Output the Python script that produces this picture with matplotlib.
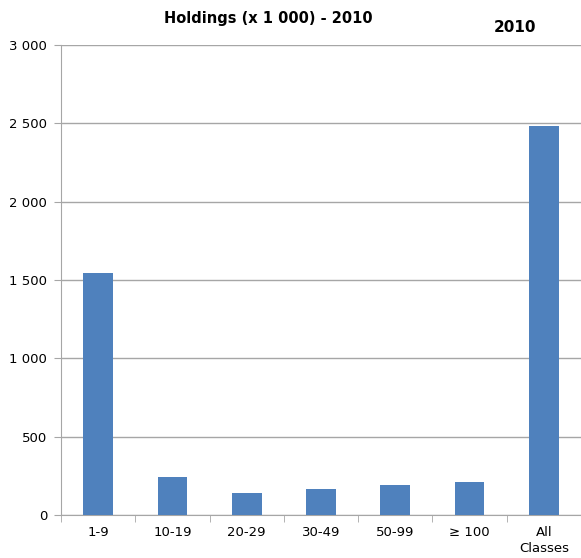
import matplotlib
matplotlib.use("Agg")
import matplotlib.pyplot as plt
import numpy as np

categories = ["1-9", "10-19", "20-29", "30-49", "50-99", "\u2265 100", "All\nClasses"]
values = [1545, 243, 140, 166, 191, 211, 2483]
yticks = [0, 500, 1000, 1500, 2000, 2500, 3000]
ytick_labels = ["0", "500", "1 000", "1 500", "2 000", "2 500", "3 000"]

plt.rcParams['font.family'] = ['DejaVu Sans']
fig = plt.figure(figsize=(5.81, 5.58), dpi=100)
ax = fig.add_axes([61/581, 1 - 515/558, 520/581, 470/558])

x = np.arange(len(categories))
ax.bar(x, values, width=0.4, color="#4F81BD", zorder=3)
ax.set_xlim(-0.5, len(categories) - 0.5)
ax.set_ylim(0, 3000)
ax.set_yticks(yticks)
ax.set_yticklabels(ytick_labels, fontsize=9.5)
ax.set_xticks(x)
ax.set_xticklabels(categories, fontsize=9.5, linespacing=1.25)
ax.tick_params(axis='x', length=0, pad=8)
ax.set_xticks(np.arange(-0.5, len(categories), 1), minor=True)
ax.tick_params(axis='x', which='minor', length=5, color="#A6A6A6", direction='out')
ax.tick_params(axis='y', length=5, color="#A6A6A6", pad=5)
ax.grid(axis='y', color="#A6A6A6", linewidth=1, zorder=0)
for s in ['top', 'right']:
    ax.spines[s].set_visible(False)
ax.spines['left'].set_color("#A6A6A6")
ax.spines['bottom'].set_color("#A6A6A6")

fig.text(268/581, 1 - 19/558, "Holdings (x 1 000) - 2010", ha='center', va='center', fontsize=10.5, fontweight='bold')
fig.text(515/581, 1 - 27/558, "2010", ha='center', va='center', fontsize=11, fontweight='bold')

fig.savefig("out.png", dpi=100)
